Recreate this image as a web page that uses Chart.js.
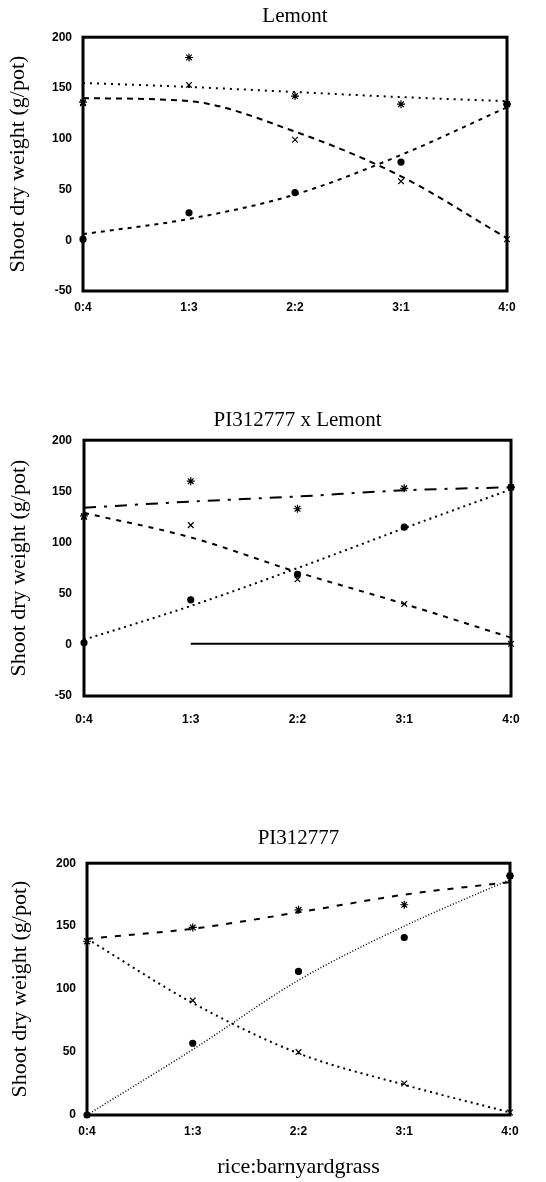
<!DOCTYPE html>
<html>
<head>
<meta charset="utf-8">
<script src="https://cdn.jsdelivr.net/npm/chart.js@4.4.1/dist/chart.umd.min.js"></script>
<style>
  body { margin: 0; background: #fff; }
  #wrap { position: relative; width: 546px; height: 1182px; }
  canvas { position: absolute; left: 0; }
</style>
</head>
<body>
<div id="wrap">
  <canvas id="c1" width="546" height="317" style="top:4px"></canvas>
  <canvas id="c2" width="546" height="323" style="top:408px"></canvas>
  <canvas id="c3" width="546" height="352" style="top:826px"></canvas>
</div>
<script>
// rice:barnyardgrass planting ratios
const ratios = ['0:4', '1:3', '2:2', '3:1', '4:0'];

// Lemont
const lemontRice = [1, 27, 47, 77, 134];
const lemontGrass = [135, 153, 99, 58, 1];
const lemontTotal = [136, 180, 142, 134, 134];
const lemontRiceFit = [6, 21, 45, 84, 131];
const lemontGrassFit = [140, 137, 107, 63, 2];
const lemontTotalFit = [155, 151, 146, 141, 137];

// PI312777 x Lemont
const crossRice = [2, 44, 69, 115, 154];
const crossGrass = [125, 117, 64, 40, 1];
const crossTotal = [126, 160, 133, 153, 154];
const crossRiceFit = [5, 38, 75, 114, 152];
const crossGrassFit = [129, 105, 71, 40, 7];
const crossTotalFit = [134, 140, 145, 151, 154];
const crossBase = [null, 1, 1, 1, 1];

// PI312777
const piRice = [0, 57, 114, 141, 190];
const piGrass = [138, 91, 50, 25, 2];
const piTotal = [138, 149, 163, 167, 190];
const piRiceFit = [0, 52, 107, 150, 187];
const piGrassFit = [140, 89, 49, 24, 2];
const piTotalFit = [140, 148, 161, 175, 185];

Chart.defaults.font.family = 'Liberation Sans';
Chart.defaults.color = '#000';

const serif = 'Liberation Serif';

// heavy box round the plot area
const frame = {
  id: 'frame',
  beforeDatasetsDraw(chart) {
    const {ctx, chartArea: a} = chart;
    ctx.save();
    ctx.strokeStyle = '#000';
    ctx.lineWidth = 3;
    ctx.strokeRect(a.left, a.top, a.right - a.left, a.bottom - a.top);
    ctx.restore();
  }
};

function marks(data, style, r) {
  return {
    data: data, showLine: false, pointStyle: style, pointRadius: r,
    pointBackgroundColor: '#000', pointBorderColor: '#000', pointBorderWidth: 1.2,
    clip: false
  };
}

function fit(data, dash, w) {
  return {
    data: data, borderColor: '#000', borderWidth: w || 2, borderDash: dash,
    pointRadius: 0, cubicInterpolationMode: 'monotone', clip: false
  };
}

function makeChart(id, opts) {
  return new Chart(document.getElementById(id), {
    type: 'line',
    data: { labels: ratios, datasets: opts.datasets },
    options: {
      responsive: false,
      animation: false,
      devicePixelRatio: 1,
      layout: { padding: { left: 0, right: opts.right, top: 0, bottom: 0 } },
      plugins: {
        legend: { display: false },
        tooltip: { enabled: false },
        title: {
          display: true, text: opts.title, fullSize: false,
          font: { family: serif, size: 21, weight: 'normal', lineHeight: 1.2 },
          padding: { top: 0, bottom: opts.titleGap }
        }
      },
      scales: {
        x: {
          grid: { display: false, drawTicks: false },
          border: { display: false },
          ticks: { padding: opts.xPad, font: { size: 12, weight: 'bold' }, maxRotation: 0 },
          title: opts.xTitle ? {
            display: true, text: opts.xTitle,
            font: { family: serif, size: 22, lineHeight: 1 }, padding: { top: 0, bottom: 0 }
          } : { display: false },
          afterFit: s => { s.height = opts.xHeight; }
        },
        y: {
          min: opts.yMin, max: 200,
          grid: { display: false, drawTicks: false },
          border: { display: false },
          ticks: { stepSize: 50, padding: opts.yPad, font: { size: 12, weight: 'bold' } },
          title: {
            display: true, text: 'Shoot dry weight (g/pot)',
            font: { family: serif, size: 22, lineHeight: 1 }, padding: { top: opts.yTitlePad, bottom: 0 }
          },
          afterFit: s => { s.width = opts.yWidth; }
        }
      }
    },
    plugins: [frame]
  });
}

makeChart('c1', {
  title: 'Lemont', titleGap: 8, right: 39, yWidth: 83, yPad: 11, yTitlePad: 7,
  xHeight: 30, xPad: 9, yMin: -50,
  datasets: [
    fit(lemontRiceFit, [4, 5]),
    fit(lemontGrassFit, [6, 5]),
    fit(lemontTotalFit, [2, 5]),
    marks(lemontRice, 'circle', 3),
    marks(lemontGrass, 'crossRot', 4),
    marks(lemontTotal, 'star', 4)
  ]
});

makeChart('c2', {
  title: 'PI312777 x Lemont', titleGap: 7, right: 35, yWidth: 84, yPad: 12, yTitlePad: 8,
  xHeight: 35, xPad: 16, yMin: -50,
  datasets: [
    fit(crossRiceFit, [2, 4]),
    fit(crossGrassFit, [5, 6]),
    fit(crossTotalFit, [12, 8, 3, 8]),
    fit(crossBase, [], 2),
    marks(crossRice, 'circle', 3),
    marks(crossGrass, 'crossRot', 4),
    marks(crossTotal, 'star', 4)
  ]
});

makeChart('c3', {
  title: 'PI312777', titleGap: 12, right: 36, yWidth: 87, yPad: 11, yTitlePad: 9,
  xHeight: 63, xPad: 9, yMin: 0, xTitle: 'rice:barnyardgrass',
  datasets: [
    fit(piRiceFit, [1, 2], 1.5),
    fit(piGrassFit, [2, 4]),
    fit(piTotalFit, [6, 8]),
    marks(piRice, 'circle', 3),
    marks(piGrass, 'crossRot', 4),
    marks(piTotal, 'star', 4)
  ]
});
</script>
</body>
</html>
